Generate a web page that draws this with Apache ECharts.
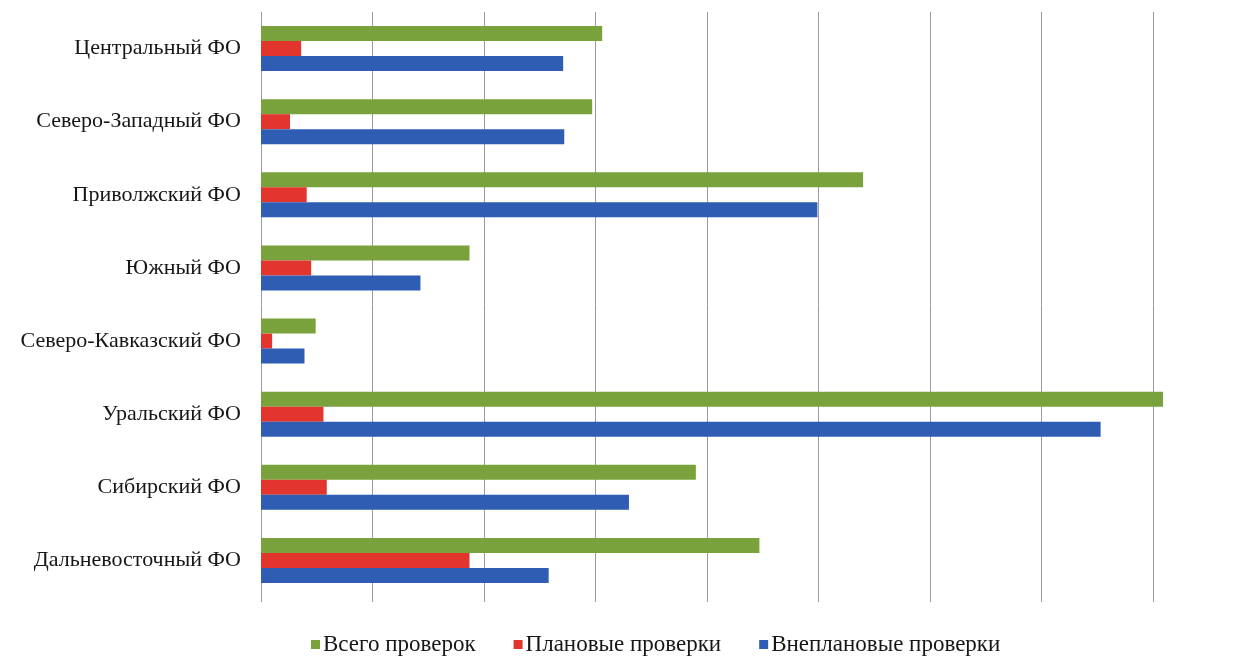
<!DOCTYPE html>
<html><head><meta charset="utf-8">
<script src="https://cdn.jsdelivr.net/npm/echarts@6/dist/echarts.min.js"></script>
<style>html,body{margin:0;padding:0;background:#fff}#c{width:1252px;height:659px}</style>
</head><body><div id="c"></div>
<script>
const categories = ['Центральный ФО','Северо-Западный ФО','Приволжский ФО','Южный ФО','Северо-Кавказский ФО','Уральский ФО','Сибирский ФО','Дальневосточный ФО'];
const seriesNames = ['Всего проверок','Плановые проверки','Внеплановые проверки'];
const totalChecks = [306, 297, 540, 187, 49, 809, 390, 447];
const plannedChecks = [36, 26, 41, 45, 10, 56, 59, 187];
const unplannedChecks = [271, 272, 499, 143, 39, 753, 330, 258];
const colors = ['#79a23c', '#e2352d', '#2f5db3'];

const chart = echarts.init(document.getElementById('c'));
const font = 'Liberation Serif, Times New Roman, serif';
const mk = (name, data, color) => ({
  name, type: 'bar', data, clip: false,
  barWidth: 15, barGap: '0%', barCategoryGap: '39%',
  itemStyle: { color }
});
chart.setOption({
  animation: false,
  textStyle: { fontFamily: font },
  grid: { left: 261, right: 99, top: 12, bottom: 62 },
  legend: {
    bottom: -2, left: 306, itemWidth: 9, itemHeight: 9, itemGap: 38,
    icon: 'rect',
    textStyle: { fontFamily: font, fontSize: 23, color: '#161616', padding: [0, 0, 0, -2] },
    data: seriesNames
  },
  xAxis: {
    type: 'value', min: 0, max: 800, interval: 100,
    axisLabel: { show: false },
    axisLine: { show: false },
    axisTick: { show: true, length: 5, lineStyle: { color: '#9a9aa6' } },
    splitLine: { show: true, lineStyle: { color: '#9a9aa6', width: 1 } }
  },
  yAxis: {
    type: 'category', data: categories, inverse: true,
    axisLine: { show: false }, axisTick: { show: false },
    axisLabel: { fontFamily: font, fontSize: 22, color: '#161616', margin: 20 }
  },
  series: [
    mk(seriesNames[0], totalChecks, colors[0]),
    mk(seriesNames[1], plannedChecks, colors[1]),
    mk(seriesNames[2], unplannedChecks, colors[2])
  ]
});
</script></body></html>
